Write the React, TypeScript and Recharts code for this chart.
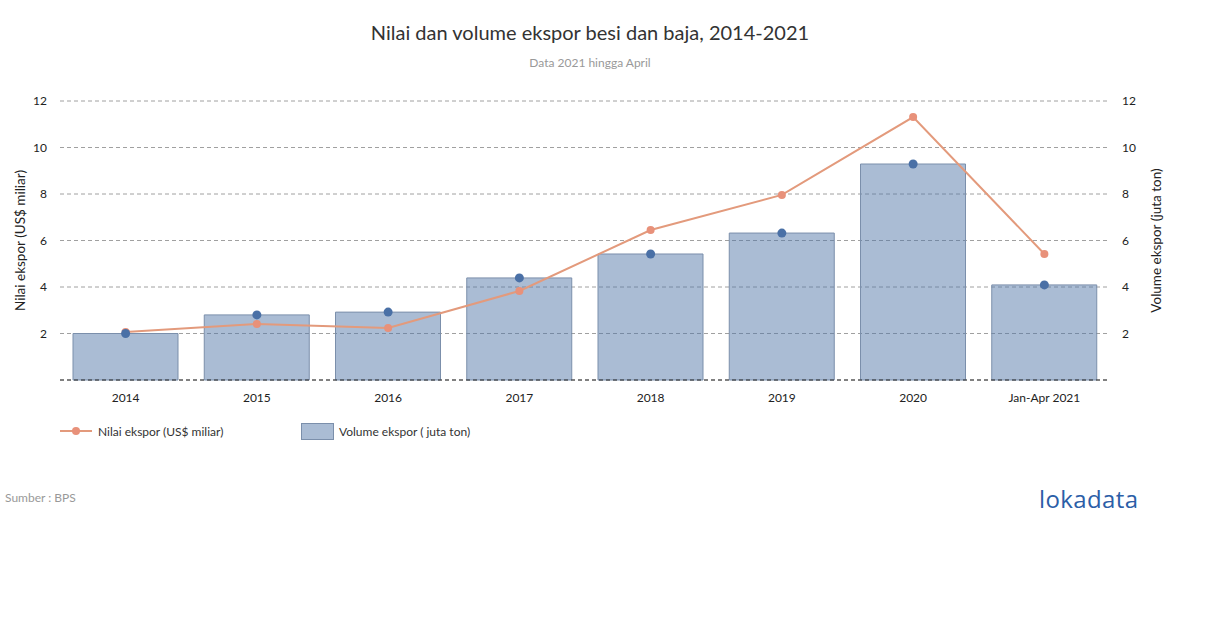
import React from 'react';
import { ComposedChart, Bar, Line, XAxis, YAxis, CartesianGrid } from 'recharts';

const categories = ['2014', '2015', '2016', '2017', '2018', '2019', '2020', 'Jan-Apr 2021'];
const nilaiEkspor = [2.06, 2.41, 2.24, 3.83, 6.45, 7.96, 11.31, 5.42];
const volumeEkspor = [2.0, 2.8, 2.92, 4.39, 5.42, 6.32, 9.29, 4.09];
const yTicks = [0, 2, 4, 6, 8, 10, 12];

const data = categories.map((c, i) => ({ year: c, nilai: nilaiEkspor[i], volume: volumeEkspor[i] }));

const FONT = 'Lato, "Noto Sans", sans-serif';
const ORANGE = '#e39a7c';
const ORANGE_DOT = '#e8917a';
const BLUE_DOT = '#4a70a6';

export default function App() {
  return (
    <div style={{ position: 'absolute', left: 0, top: 0, width: 1210, height: 628, background: '#fff', fontFamily: FONT }}>
      <div style={{ position: 'absolute', left: 0, width: 1180, top: 20, textAlign: 'center', fontSize: 20, color: '#333' }}>
        Nilai dan volume ekspor besi dan baja, 2014-2021
      </div>
      <div style={{ position: 'absolute', left: 0, width: 1180, top: 55, textAlign: 'center', fontSize: 12, color: '#999' }}>
        Data 2021 hingga April
      </div>
      <ComposedChart
        width={1210}
        height={628}
        data={data}
        margin={{ top: 101, left: 0, right: 40, bottom: 218 }}
        style={{ position: 'absolute', left: 0, top: 0, fontFamily: FONT }}
      >
        <CartesianGrid yAxisId="left" vertical={false} stroke="#a0a0a0" strokeDasharray="4 3" />
        <XAxis
          dataKey="year"
          height={30}
          tickLine={false}
          tickSize={0}
          tickMargin={13}
          axisLine={{ stroke: '#333', strokeDasharray: '4 3' }}
          tick={{ fill: '#222', fontSize: 12 }}
        />
        <YAxis
          yAxisId="left"
          orientation="left"
          width={60}
          domain={[0, 12]}
          ticks={yTicks}
          tickFormatter={(v: number) => (v === 0 ? '' : String(v))}
          axisLine={false}
          tickLine={false}
          tickSize={0}
          tickMargin={13}
          tick={{ fill: '#222', fontSize: 12 }}
          label={{ value: 'Nilai ekspor (US$ miliar)', angle: -90, position: 'insideLeft', offset: 20, style: { textAnchor: 'middle', fill: '#222', fontSize: 13.5 } }}
        />
        <YAxis
          yAxisId="right"
          orientation="right"
          width={60}
          domain={[0, 12]}
          ticks={yTicks}
          tickFormatter={(v: number) => (v === 0 ? '' : String(v))}
          axisLine={false}
          tickLine={false}
          tickSize={0}
          tickMargin={12}
          tick={{ fill: '#222', fontSize: 12, textAnchor: 'start' }}
          label={{ value: 'Volume ekspor (juta ton)', angle: -90, position: 'insideRight', offset: 14, style: { textAnchor: 'middle', fill: '#222', fontSize: 13.5 } }}
        />
        <Line
          yAxisId="left"
          dataKey="nilai"
          stroke={ORANGE}
          strokeWidth={2}
          dot={false}
          isAnimationActive={false}
        />
        <Bar
          yAxisId="right"
          dataKey="volume"
          fill="rgb(82,118,168)"
          fillOpacity={0.49}
          stroke="#7b8fab"
          strokeWidth={1}
          barSize={105}
          isAnimationActive={false}
        />
        <Line
          yAxisId="left"
          dataKey="nilai"
          stroke="none"
          strokeWidth={0}
          dot={{ r: 4, fill: ORANGE_DOT, stroke: 'none' }}
          activeDot={false}
          isAnimationActive={false}
        />
        <Line
          yAxisId="right"
          dataKey="volume"
          stroke="none"
          strokeWidth={0}
          dot={{ r: 4.5, fill: BLUE_DOT, stroke: 'none' }}
          activeDot={false}
          isAnimationActive={false}
        />
      </ComposedChart>
      {/* Legend */}
      <div style={{ position: 'absolute', left: 60, top: 423, height: 16, display: 'flex', alignItems: 'center', fontSize: 12, color: '#333' }}>
        <svg width={33} height={16} style={{ marginRight: 5 }}>
          <line x1={0} y1={8} x2={32} y2={8} stroke={ORANGE} strokeWidth={2} />
          <circle cx={16} cy={8} r={4} fill={ORANGE_DOT} />
        </svg>
        <span>Nilai ekspor (US$ miliar)</span>
      </div>
      <div style={{ position: 'absolute', left: 301, top: 423, height: 16, display: 'flex', alignItems: 'center', fontSize: 12, color: '#333' }}>
        <div style={{ width: 31, height: 15, background: 'rgba(82,118,168,0.49)', border: '1px solid #7b8fab', marginRight: 5 }} />
        <span>Volume ekspor ( juta ton)</span>
      </div>
      <div style={{ position: 'absolute', left: 5, top: 490, fontSize: 12, color: '#999' }}>Sumber : BPS</div>
      <div style={{ position: 'absolute', left: 1039, top: 482, fontSize: 24, color: '#2b5ea7', letterSpacing: 0.4, fontWeight: 500, fontFamily: '"Open Sans", Lato, sans-serif' }}>
        lokadata
      </div>
    </div>
  );
}
